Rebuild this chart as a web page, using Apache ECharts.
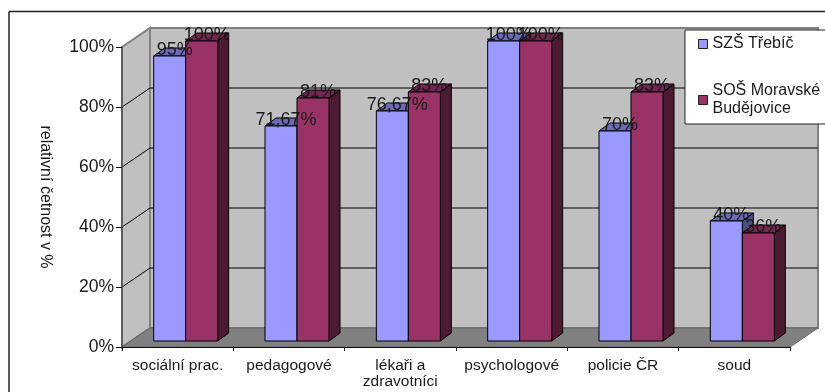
<!DOCTYPE html>
<html>
<head>
<meta charset="utf-8">
<style>
  html, body { margin: 0; padding: 0; background: #fff; }
  #chart { width: 825px; height: 392px; }
</style>
<script src="https://cdn.jsdelivr.net/npm/echarts@6/dist/echarts.min.js"></script>
</head>
<body>
<div id="chart"></div>
<script>
const categories = ['sociální prac.', 'pedagogové', 'lékaři a\nzdravotníci', 'psychologové', 'policie ČR', 'soud']
const trebic = [95, 71.67, 76.67, 100, 70, 40]
const budejovice = [100, 81, 83, 100, 83, 36]
const gridTicks = [0, 20, 40, 60, 80, 100]
const seriesNames = ['SZŠ Třebíč', 'SOŠ Moravské\nBudějovice']

const fontFamily = '"Liberation Sans", Arial, sans-serif'
const wallDepth = [28, -19]
const barDepth = [11, -8]
const barShift = [8, -6]
const barWidth = 32

function poly(points, fill, stroke, lineWidth) {
  return {
    type: 'polygon',
    shape: { points },
    style: { fill, stroke: stroke || 'none', lineWidth: lineWidth === undefined ? 1 : lineWidth }
  }
}

function renderWalls(params, api) {
  const o = api.coord([0, 0])
  const left = o[0] - api.size([1, 0])[0] / 2
  const right = left + api.size([1, 0])[0] * categories.length
  const bottom = o[1]
  const top = api.coord([0, 100])[1]
  const dx = wallDepth[0]
  const dy = wallDepth[1]
  const children = [
    poly([[left + dx, top + dy], [right + dx, top + dy], [right + dx, bottom + dy], [left + dx, bottom + dy]], '#c0c0c0', '#808080', 2),
    poly([[left, top], [left + dx, top + dy], [left + dx, bottom + dy], [left, bottom]], '#c0c0c0', '#808080', 2),
    poly([[left, bottom], [left + dx, bottom + dy], [right + dx, bottom + dy], [right, bottom]], '#808080', '#666', 1)
  ]
  gridTicks.slice(1, -1).forEach(t => {
    const y = api.coord([0, t])[1]
    children.push({
      type: 'polyline',
      shape: { points: [[left, y], [left + dx, y + dy], [right + dx, y + dy]] },
      style: { fill: 'none', stroke: '#000', lineWidth: 1 }
    })
  })
  return { type: 'group', children }
}

function makeBarRender(side, front, topFace, sideFace) {
  return function (params, api) {
    const cat = api.value(0)
    const val = api.value(1)
    const c = api.coord([cat, val])
    const base = api.coord([cat, 0])
    const x0 = c[0] + barShift[0] + (side === 0 ? -barWidth : 0)
    const x1 = x0 + barWidth
    const yTop = c[1] + barShift[1]
    const yBot = base[1] + barShift[1]
    const dx = barDepth[0]
    const dy = barDepth[1]
    return {
      type: 'group',
      children: [
        poly([[x0, yTop], [x0 + dx, yTop + dy], [x1 + dx, yTop + dy], [x1, yTop]], topFace, '#000'),
        poly([[x1, yTop], [x1 + dx, yTop + dy], [x1 + dx, yBot + dy], [x1, yBot]], sideFace, '#000'),
        poly([[x0, yTop], [x1, yTop], [x1, yBot], [x0, yBot]], front, '#000'),
        {
          type: 'text',
          z2: 100,
          style: {
            x: (x0 + x1) / 2 + 5,
            y: yTop - 6,
            text: String(val).replace('.', ',') + '%',
            fill: '#1a1a1a',
            font: '18px ' + fontFamily,
            align: 'center',
            verticalAlign: 'middle'
          }
        }
      ]
    }
  }
}

const chart = echarts.init(document.getElementById('chart'), null, { renderer: 'canvas' })

chart.setOption({
  animation: false,
  backgroundColor: '#fff',
  textStyle: { fontFamily },
  grid: { left: 122, right: 35, top: 47, bottom: 45, containLabel: false },
  legend: {
    orient: 'vertical',
    left: 685,
    top: 30,
    data: seriesNames,
    icon: 'rect',
    itemWidth: 9,
    itemHeight: 9,
    itemGap: 29,
    padding: [5, 60, 6, 13],
    backgroundColor: '#fff',
    borderColor: '#222',
    borderWidth: 1,
    selectedMode: false,
    itemStyle: { borderColor: '#222', borderWidth: 1 },
    textStyle: { fontSize: 16, lineHeight: 18, color: '#1a1a1a', fontFamily }
  },
  xAxis: {
    type: 'category',
    data: categories,
    z: 3,
    axisLine: { show: true, lineStyle: { color: '#111', width: 1 } },
    axisTick: { show: true, length: 4, alignWithLabel: false, lineStyle: { color: '#111' } },
    axisLabel: { interval: 0, margin: 11, fontSize: 15.5, lineHeight: 16, color: '#1a1a1a', fontFamily },
    splitLine: { show: false }
  },
  yAxis: {
    type: 'value',
    min: 0,
    max: 100,
    interval: 20,
    z: 3,
    name: 'relativní četnost v %',
    nameLocation: 'middle',
    nameRotate: -90,
    nameGap: 69,
    nameTextStyle: { fontSize: 16, color: '#1a1a1a', fontFamily },
    axisLine: { show: true, lineStyle: { color: '#555', width: 1.5 } },
    axisTick: { show: true, length: 6, lineStyle: { color: '#111' } },
    axisLabel: { margin: 8, fontSize: 17.5, color: '#1a1a1a', fontFamily, formatter: '{value}%' },
    splitLine: { show: false }
  },
  graphic: [
    { type: 'line', z: 0, shape: { x1: 9, y1: 11.5, x2: 825, y2: 11.5 }, style: { stroke: '#222', lineWidth: 1.5 } },
    { type: 'line', z: 0, shape: { x1: 9, y1: 11.5, x2: 9, y2: 392 }, style: { stroke: '#222', lineWidth: 1.5 } }
  ],
  series: [
    {
      type: 'custom',
      name: 'walls',
      z: 1,
      silent: true,
      renderItem: renderWalls,
      data: [[0, 0]],
      encode: { x: 0, y: 1 }
    },
    {
      type: 'custom',
      name: seriesNames[0],
      z: 2,
      itemStyle: { color: '#9999ff' },
      renderItem: makeBarRender(0, '#9999ff', '#6b6bb8', '#4d4d80'),
      data: trebic.map((v, i) => [i, v]),
      encode: { x: 0, y: 1 }
    },
    {
      type: 'custom',
      name: seriesNames[1],
      z: 2,
      itemStyle: { color: '#993366' },
      renderItem: makeBarRender(1, '#993366', '#732650', '#4d1a33'),
      data: budejovice.map((v, i) => [i, v]),
      encode: { x: 0, y: 1 }
    }
  ]
})
</script>
</body>
</html>
